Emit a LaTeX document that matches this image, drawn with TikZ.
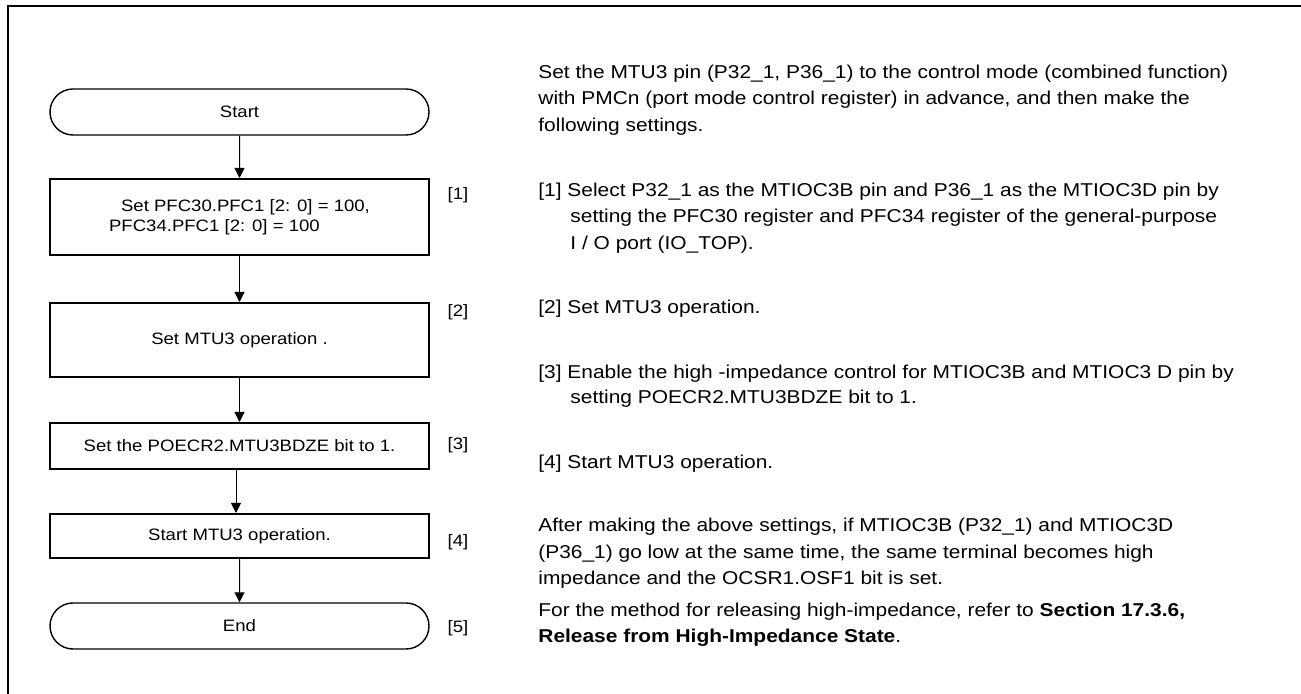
\documentclass[tikz,border=0pt]{standalone}
\usepackage{fontspec}
\setmainfont{Liberation Sans}[FakeStretch=1.125]
\usetikzlibrary{shapes.misc,arrows.meta}
\newcommand{\fcfont}{\fontsize{8.25pt}{10pt}\selectfont}
\newcommand{\rtfont}{\fontsize{9.3pt}{13pt}\selectfont}
\begin{document}
\begin{tikzpicture}[x=0.5pt,y=-0.5pt,
  proc/.style={draw,line width=1pt,minimum width=189.5pt,inner sep=0pt,font=\fcfont,align=center},
  term/.style={draw,line width=0.7pt,rounded rectangle,minimum width=189.5pt,minimum height=23pt,inner sep=0pt,font=\fcfont},
  lbl/.style={font=\fcfont,inner sep=0pt},
  txt/.style={anchor=base west,inner sep=0pt,font=\rtfont},
  arr/.style={-{Triangle[length=5pt,width=5pt]},line width=0.5pt}]
\useasboundingbox (0,0) rectangle (1301,694);
\draw[line width=1pt] (1301,6) -- (7.5,6) -- (7.5,694);

% flowchart
\node[term] (start) at (239.5,112) {Start};
\node[proc,minimum height=38pt,align=left] (b1) at (239.5,217) {\hspace*{6pt}Set PFC30.PFC1 [2: 0] = 100,\\PFC34.PFC1 [2: 0] = 100};
\node[proc,minimum height=37pt] (b2) at (239.5,340) {Set MTU3 operation .};
\node[proc,minimum height=23pt] (b3) at (239.5,446) {Set the POECR2.MTU3BDZE bit to 1.};
\node[proc,minimum height=22pt] (b4) at (239.5,536) {Start MTU3 operation.};
\node[term] (end) at (239.5,626) {End};

\draw[arr] (start) -- (b1);
\draw[arr] (b1) -- (b2);
\draw[arr] (b2) -- (b3);
\draw[arr] ([xshift=-1.75pt]b3.south) -- ([xshift=-1.75pt]b4.north);
\draw[arr] (b4) -- (end);

\node[lbl] (l1) at (458,195) {[1]};
\node[lbl] (l2) at (458,312) {[2]};
\node[lbl] (l3) at (458,445) {[3]};
\node[lbl] (l4) at (458,542) {[4]};
\node[lbl] (l5) at (458,628) {[5]};

% right text
\node[txt] (p0a) at (538,79) {Set the MTU3 pin (P32\_1, P36\_1) to the control mode (combined function)};
\node[txt] (p0b) at (538,105) {with PMCn (port mode control register) in advance, and then make the};
\node[txt] (p0c) at (538,132) {following settings.};
\node[txt] (p1a) at (538,197) {[1] Select P32\_1 as the MTIOC3B pin and P36\_1 as the MTIOC3D pin by};
\node[txt] (p1b) at (570,223) {setting the PFC30 register and PFC34 register of the general-purpose};
\node[txt] (p1c) at (570,250) {I / O port (IO\_TOP).};
\node[txt] (p2a) at (538,314) {[2] Set MTU3 operation.};
\node[txt] (p3a) at (538,379) {[3] Enable the high -impedance control for MTIOC3B and MTIOC3 D pin by};
\node[txt] (p3b) at (570,404) {setting POECR2.MTU3BDZE bit to 1.};
\node[txt] (p4a) at (538,469) {[4] Start MTU3 operation.};
\node[txt] (p5a) at (538,532) {After making the above settings, if MTIOC3B (P32\_1) and MTIOC3D};
\node[txt] (p5b) at (538,559) {(P36\_1) go low at the same time, the same terminal becomes high};
\node[txt] (p5c) at (538,585) {impedance and the OCSR1.OSF1 bit is set.};
\node[txt] (p6a) at (538,617) {For the method for releasing high-impedance, refer to \textbf{Section 17.3.6,}};
\node[txt] (p6b) at (538,643) {\textbf{Release from High-Impedance State}.};
\end{tikzpicture}
\end{document}
